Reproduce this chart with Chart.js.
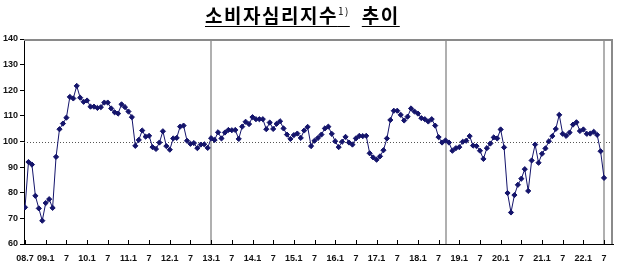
<!DOCTYPE html>
<html>
<head>
<meta charset="utf-8">
<script src="https://cdn.jsdelivr.net/npm/chart.js@4"></script>
<style>
  body { margin: 0; background: #fff; }
  #wrap { position: relative; width: 620px; height: 269px; }
  #title {
    position: absolute; left: 205px; top: 1px;
    font: bold 19px "Noto Sans CJK KR", sans-serif; color: #000;
    text-decoration: underline; text-underline-offset: 3px; letter-spacing: 1.5px;
    white-space: nowrap;
  }
  #title sup { font-size: 10px; font-weight: normal; vertical-align: 8px; margin-right: 12px; }
</style>
</head>
<body>
<div id="wrap">
  <canvas id="csiChart" width="620" height="269"></canvas>
  <div id="title">소비자심리지수<sup>1)</sup>추이</div>
</div>
<script>
// monthly index, 2008.7 ~ 2022.7
const csi = [
  74.3, 92.0, 91.0, 78.8, 73.9, 69.1,
  76.0, 77.5, 74.1, 94.0, 104.8, 107.0, 109.3, 117.4, 116.8, 121.7, 117.1, 115.5,
  116.0, 113.6, 113.6, 113.1, 113.4, 115.2, 115.2, 112.9, 111.4, 110.9, 114.5, 113.4,
  111.7, 109.5, 98.3, 100.6, 104.3, 101.9, 102.2, 97.8, 97.1, 99.6, 104.0, 98.2,
  96.8, 101.2, 101.4, 105.8, 106.2, 100.3, 99.1, 99.4, 97.4, 98.8, 98.9, 97.5,
  101.3, 100.6, 103.6, 101.2, 103.5, 104.5, 104.4, 104.5, 101.0, 105.8, 107.7, 106.8,
  109.5, 108.7, 108.7, 108.7, 104.8, 107.4, 104.9, 106.9, 107.9, 105.1, 102.7, 101.0,
  102.5, 103.1, 101.4, 104.3, 105.7, 98.2, 100.3, 101.4, 102.7, 105.1, 105.8, 103.0,
  100.1, 97.8, 99.9, 101.8, 99.6, 98.8, 101.2, 102.2, 102.1, 102.2, 95.4, 93.8,
  92.9, 94.2, 96.6, 101.2, 108.4, 112.0, 112.0, 110.4, 108.2, 109.7, 112.9, 111.7,
  110.9, 109.1, 108.7, 107.8, 108.7, 106.2, 101.7, 99.6, 100.4, 99.6, 96.4, 97.4,
  97.8, 99.9, 100.3, 102.1, 98.4, 98.2, 96.4, 93.2, 97.4, 99.2, 101.6, 101.2,
  104.7, 97.7, 79.9, 72.3, 79.1, 83.1, 85.5, 89.2, 80.7, 92.6, 98.8, 91.7,
  95.2, 97.3, 100.1, 102.1, 104.9, 110.4, 103.0, 102.2, 103.5, 106.6, 107.5, 104.1,
  104.7, 103.0, 103.1, 103.8, 102.6, 96.2, 85.8
];
const xTickLabels = ['08.7', '09.1', '7', '10.1', '7', '11.1', '7', '12.1', '7', '13.1', '7',
  '14.1', '7', '15.1', '7', '16.1', '7', '17.1', '7', '18.1', '7', '19.1', '7', '20.1', '7',
  '21.1', '7', '22.1', '7'];
const yTicks = [60, 70, 80, 90, 100, 110, 120, 130, 140];
const dividerMonths = [54, 122, 168];   // 13.1, 18.9, 22.7
const baseLine = 100;

const points = csi.map(function(v, i) { return { x: i, y: v }; });

const framePlugin = {
  id: 'frame',
  beforeDatasetsDraw: function(chart) {
    const c = chart.ctx, a = chart.chartArea;
    const xs = chart.scales.x, ys = chart.scales.y;
    c.save();
    // 100 reference line
    c.strokeStyle = '#555';
    c.lineWidth = 1;
    c.setLineDash([1, 2]);
    const yb = Math.round(ys.getPixelForValue(baseLine)) + 0.5;
    c.beginPath(); c.moveTo(a.left, yb); c.lineTo(a.right, yb); c.stroke();
    c.setLineDash([]);
    // divider lines
    c.strokeStyle = '#b0b0b0';
    c.lineWidth = 2;
    dividerMonths.forEach(function(m) {
      const px = Math.round(xs.getPixelForValue(m));
      c.beginPath(); c.moveTo(px, a.top); c.lineTo(px, a.bottom); c.stroke();
    });
    // top and right frame
    c.strokeStyle = '#8a8a8a';
    c.lineWidth = 2;
    c.beginPath();
    c.moveTo(a.left, a.top + 1); c.lineTo(a.right - 1, a.top + 1); c.lineTo(a.right - 1, a.bottom);
    c.stroke();
    // small tick marks inside the x axis
    c.strokeStyle = '#000';
    c.lineWidth = 1;
    xs.ticks.forEach(function(t) {
      const px = Math.round(xs.getPixelForValue(t.value)) + 0.5;
      c.beginPath(); c.moveTo(px, a.bottom); c.lineTo(px, a.bottom - 4); c.stroke();
    });
    c.restore();
  }
};

new Chart(document.getElementById('csiChart'), {
  type: 'line',
  data: {
    datasets: [{
      data: points,
      borderColor: '#14146b',
      backgroundColor: '#14146b',
      borderWidth: 1,
      pointStyle: 'rectRot',
      pointRadius: 2.6,
      pointBorderWidth: 1,
      tension: 0
    }]
  },
  options: {
    responsive: false,
    animation: false,
    layout: { padding: { top: 39, right: 7, left: 0, bottom: 0 } },
    plugins: {
      legend: { display: false },
      tooltip: { enabled: false },
      title: { display: false }
    },
    scales: {
      x: {
        type: 'linear',
        min: -0.3,
        max: 170.6,
        afterBuildTicks: function(s) {
          s.ticks = xTickLabels.map(function(l, k) { return { value: k * 6 }; });
        },
        afterFit: function(s) { s.height = 25; },
        ticks: {
          autoSkip: false,
          maxRotation: 0,
          padding: 9,
          color: '#111',
          font: { family: 'Liberation Sans', size: 9, weight: 'bold' },
          callback: function(v) { return xTickLabels[Math.round(v / 6)]; }
        },
        grid: { drawOnChartArea: false, drawTicks: false },
        border: { color: '#000', width: 1 }
      },
      y: {
        min: 60,
        max: 140,
        afterBuildTicks: function(s) {
          s.ticks = yTicks.map(function(v) { return { value: v }; });
        },
        afterFit: function(s) { s.width = 24; },
        ticks: {
          padding: 2,
          color: '#111',
          font: { family: 'Liberation Sans', size: 9, weight: 'bold' }
        },
        grid: { drawOnChartArea: false, color: '#000', tickLength: 4 },
        border: { color: '#000', width: 1 }
      }
    }
  },
  plugins: [framePlugin]
});
</script>
</body>
</html>
